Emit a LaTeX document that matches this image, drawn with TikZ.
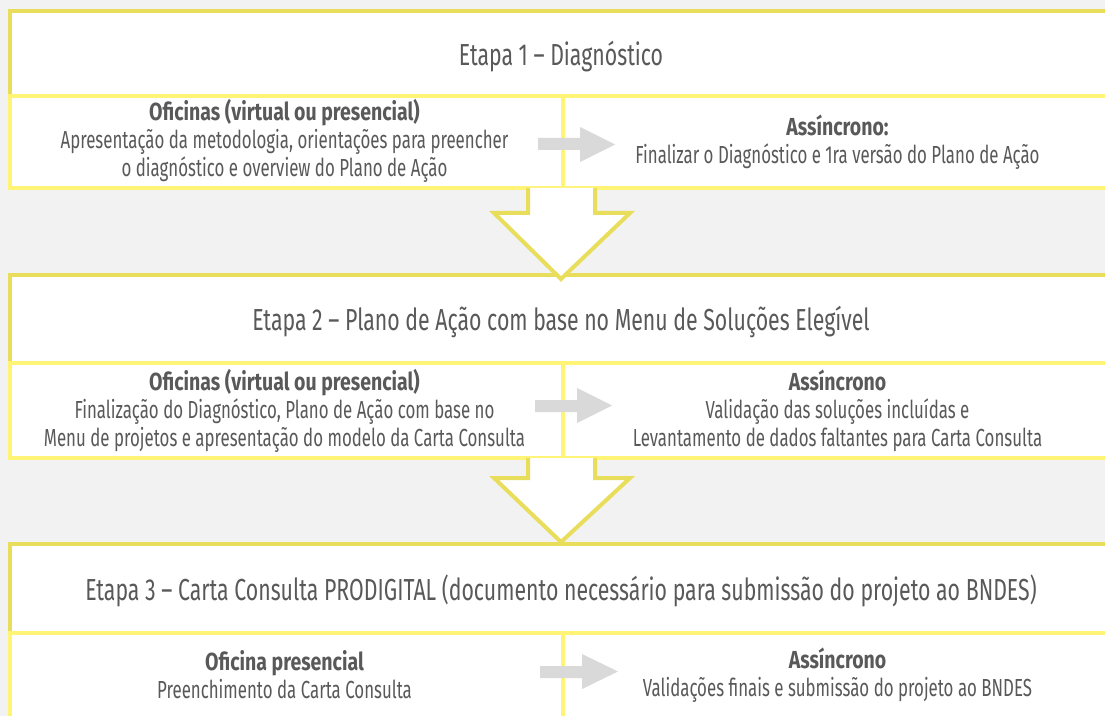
\documentclass[tikz,border=0pt]{standalone}
\usepackage{fontspec}
\setmainfont{Fira Sans}[FakeStretch=0.683]
\newfontfamily\titlefont{Fira Sans}[FakeStretch=0.70]
\newfontfamily\boldfam{Fira Sans}[FakeStretch=0.79]
\newcommand{\hd}[1]{{\boldfam\bfseries #1}}
\definecolor{bg}{HTML}{F2F2F2}
\definecolor{outery}{HTML}{E8DE5C}
\definecolor{innery}{HTML}{FFF476}
\definecolor{txt}{HTML}{595959}
\definecolor{garrow}{HTML}{D9D9D9}
\tikzset{
  outerbox/.style={draw=outery, line width=3pt, fill=white, anchor=north west, inner sep=0pt, minimum width={1106*0.75pt}},
  subbox/.style={draw=innery, line width=3pt, fill=white, anchor=north west, inner sep=0pt, minimum width={553*0.75pt}},
  titletext/.style={text=txt, font=\titlefont\fontsize{22.8}{26}\selectfont, inner sep=0pt},
  bodytext/.style={text=txt, font=\fontsize{18.5}{21}\selectfont, align=center, inner sep=0pt},
  downarrow/.style={draw=outery, line width=3pt, fill=white, line join=miter},
  grayarrow/.style={fill=garrow},
}
\begin{document}
\begin{tikzpicture}[x=0.75pt,y=-0.75pt]
\useasboundingbox (0,0) rectangle (1105,716);
\fill[bg] (0,0) rectangle (1105,716);
\clip (0,0) rectangle (1105,716);

% Etapa 1
\node[outerbox, minimum height={176.5*0.75pt}] (e1) at (8,9.5) {};
\node[subbox, minimum height={92*0.75pt}] (e1l) at (8,94) {};
\node[subbox, minimum height={92*0.75pt}] (e1r) at (561,94) {};
\node[titletext] (t1) at (561,57) {Etapa 1 – Diagnóstico};
\node[bodytext] (b1l) at (284.5,141) {\hd{Oficinas (virtual ou presencial)}\\Apresentação da metodologia, orientações para preencher\\o diagnóstico e overview do Plano de Ação};
\node[bodytext] (b1r) at (837.5,142) {\hd{Assíncrono:}\\Finalizar o Diagnóstico e 1ra versão do Plano de Ação};

% Etapa 2
\node[outerbox, minimum height={183*0.75pt}] (e2) at (8,273) {};
\node[subbox, minimum height={95*0.75pt}] (e2l) at (8,361) {};
\node[subbox, minimum height={95*0.75pt}] (e2r) at (561,361) {};
\node[titletext] (t2) at (561,322) {Etapa 2 – Plano de Ação com base no Menu de Soluções Elegível};
\node[bodytext] (b2l) at (284.5,411) {\hd{Oficinas (virtual ou presencial)}\\Finalização do Diagnóstico, Plano de Ação com base no\\Menu de projetos e apresentação do modelo da Carta Consulta};
\node[bodytext] (b2r) at (837.5,411) {\hd{Assíncrono}\\Validação das soluções incluídas e\\Levantamento de dados faltantes para Carta Consulta};

% Etapa 3
\node[outerbox, minimum height={200*0.75pt}] (e3) at (8,542) {};
\node[subbox, minimum height={100*0.75pt}] (e3l) at (8,631) {};
\node[subbox, minimum height={100*0.75pt}] (e3r) at (561,631) {};
\node[titletext] (t3) at (561,591) {Etapa 3 – Carta Consulta PRODIGITAL (documento necessário para submissão do projeto ao BNDES)};
\node[bodytext] (b3l) at (284.5,675) {\hd{Oficina presencial}\\Preenchimento da Carta Consulta};
\node[bodytext] (b3r) at (837.5,675) {\hd{Assíncrono}\\Validações finais e submissão do projeto ao BNDES};

% gray arrows
\fill[grayarrow] (538,138) -- (580,138) -- (580,127) -- (615,144.5) -- (580,162) -- (580,150) -- (538,150) -- cycle;
\fill[grayarrow] (535,400) -- (577,400) -- (577,388) -- (612,405.5) -- (577,423) -- (577,412) -- (535,412) -- cycle;
\fill[grayarrow] (540,666) -- (582,666) -- (582,654) -- (618,671.5) -- (582,689) -- (582,678) -- (540,678) -- cycle;

% big down arrows
\filldraw[downarrow] (528,188) -- (528,213) -- (494,213) -- (561,279) -- (630,213) -- (595,213) -- (595,188);
\filldraw[downarrow] (528,458) -- (528,478) -- (494,478) -- (561,542) -- (630,478) -- (595,478) -- (595,458);
\end{tikzpicture}
\end{document}
